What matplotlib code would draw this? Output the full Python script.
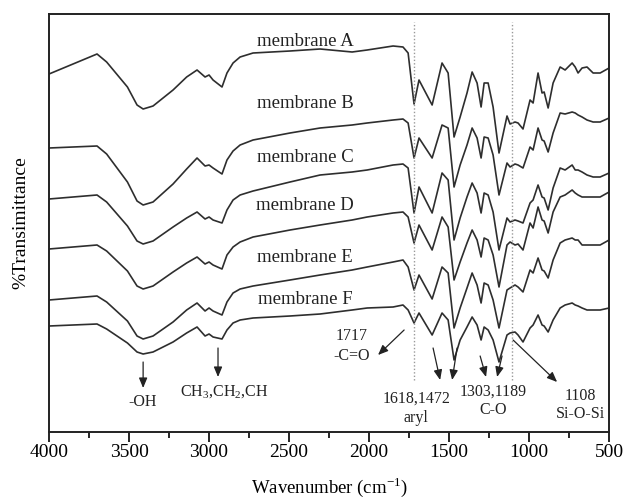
import matplotlib
matplotlib.use("Agg")
import matplotlib.pyplot as plt
import numpy as np
from matplotlib.ticker import MultipleLocator

plt.rcParams['font.family'] = ['Liberation Serif', 'DejaVu Serif']
plt.rcParams['mathtext.fontset'] = 'custom'
plt.rcParams['mathtext.rm'] = 'Liberation Serif'

# wavenumbers (cm-1) where the traces were read
wavenumber = [4000, 3700, 3640, 3510, 3450, 3412, 3350, 3225, 3140, 3075, 3025,
              3000, 2975, 2919, 2888, 2850, 2806, 2725, 2494, 2306, 2106, 2012,
              1850, 1788, 1756, 1719, 1688, 1606, 1544, 1506, 1469, 1431, 1388,
              1356, 1325, 1300, 1281, 1256, 1225, 1188, 1138, 1119, 1088, 1069,
              1038, 994, 975, 944, 919, 906, 881, 850, 806, 775, 731, 712, 694,
              669, 638, 600, 556, 500]

# %T in arbitrary (stacked) units
mem_A = [358, 378, 370, 345, 327, 323, 326, 342, 355, 362, 355,
         357, 352, 345, 359, 369, 375, 379, 381, 383, 380, 382,
         386, 385, 379, 328, 352, 327, 369, 359, 295, 315, 339,
         360, 349, 325, 349, 349, 325, 279, 316, 308, 310, 309,
         303, 332, 329, 359, 339, 340, 324, 349, 365, 362, 369, 365, 359,
         364, 365, 359, 359, 364]
mem_B = [284, 286, 278, 250, 231, 227, 230, 248, 263, 274, 266,
         267, 264, 258, 272, 281, 287, 292, 299, 304, 307, 309,
         312, 313, 309, 274, 294, 274, 307, 304, 245, 267, 287,
         304, 294, 274, 295, 294, 277, 237, 269, 265, 268, 267,
         264, 285, 282, 304, 292, 291, 280, 299, 319, 318, 320, 319, 317,
         315, 312, 310, 310, 314]
mem_C = [233, 237, 230, 206, 191, 188, 191, 205, 214, 220, 213,
         215, 212, 209, 222, 232, 237, 241, 250, 257, 260, 262,
         267, 268, 264, 219, 245, 219, 259, 252, 192, 214, 235,
         249, 239, 219, 239, 237, 220, 182, 214, 210, 212, 211,
         209, 229, 232, 247, 235, 234, 222, 244, 264, 262, 267, 262, 262,
         260, 257, 255, 255, 259]
mem_D = [183, 187, 181, 161, 146, 143, 146, 160, 169, 175, 168,
         170, 167, 163, 177, 185, 190, 195, 202, 207, 212, 215,
         219, 220, 215, 189, 207, 182, 215, 205, 152, 170, 189,
         202, 192, 175, 194, 192, 177, 145, 187, 190, 187, 188,
         182, 209, 204, 225, 212, 211, 199, 220, 235, 237, 242, 239, 237,
         235, 235, 235, 235, 240]
mem_E = [132, 136, 130, 111, 96, 93, 96, 110, 122, 129, 121,
         124, 121, 117, 130, 139, 143, 146, 152, 157, 162, 165,
         170, 172, 165, 142, 157, 133, 165, 159, 104, 124, 144,
         159, 147, 129, 149, 147, 132, 104, 142, 144, 147, 145,
         140, 162, 159, 174, 162, 161, 154, 172, 189, 192, 194, 192, 192,
         187, 187, 187, 187, 192]
mem_F = [106, 108, 103, 89, 80, 78, 80, 90, 99, 105, 96,
         98, 95, 93, 102, 109, 112, 114, 116, 118, 122, 124,
         125, 127, 122, 109, 119, 97, 119, 112, 72, 92, 105,
         115, 107, 92, 105, 102, 92, 70, 97, 99, 100, 97,
         90, 104, 107, 117, 107, 106, 100, 112, 124, 127, 129, 127, 126,
         124, 122, 122, 122, 124]

series = [mem_A, mem_B, mem_C, mem_D, mem_E, mem_F]
labels = ['membrane A', 'membrane B', 'membrane C', 'membrane D', 'membrane E', 'membrane F']
label_y = [390, 329, 274, 227, 175, 132]

fig = plt.figure(figsize=(6.23, 5.0), dpi=100)
ax = fig.add_axes([0.0787, 0.136, 0.899, 0.836])

for s in series:
    ax.plot(wavenumber, s, color='#2e2e2e', lw=1.2)

for lab, yy in zip(labels, label_y):
    ax.text(2400, yy, lab, ha='center', va='center', fontsize=13.5, color='#222222')

# reference lines for C=O and Si-O-Si
for wn in [1717, 1108]:
    ax.plot([wn, wn], [52, 410], color='#999999', lw=1, ls=(0, (1, 1.5)))

arw = dict(arrowstyle='-|>,head_length=0.6,head_width=0.25', color='#222222', lw=0.9,
           shrinkA=0, shrinkB=0)
ann = dict(fontsize=11.5, ha='center', va='center', color='#222222', linespacing=1.25)

ax.annotate('', xy=(3412, 44), xytext=(3412, 70), arrowprops=arw)
ax.text(3412, 30, '-OH', **ann)

ax.annotate('', xy=(2944, 55), xytext=(2944, 84), arrowprops=arw)
ax.text(2906, 40, 'CH$_3$,CH$_2$,CH', **ann)

ax.annotate('', xy=(1944, 77), xytext=(1781, 102), arrowprops=arw)
ax.text(2106, 86, '1717\n-C=O', **ann)

ax.annotate('', xy=(1556, 52), xytext=(1600, 84), arrowprops=arw)
ax.annotate('', xy=(1481, 52), xytext=(1450, 84), arrowprops=arw)
ax.text(1706, 24, '1618,1472\naryl', **ann)

ax.annotate('', xy=(1269, 55), xytext=(1306, 76), arrowprops=arw)
ax.annotate('', xy=(1200, 55), xytext=(1169, 76), arrowprops=arw)
ax.text(1225, 31, '1303,1189\nC-O', **ann)

ax.annotate('', xy=(825, 50), xytext=(1100, 92), arrowprops=arw)
ax.text(681, 27, '1108\nSi-O-Si', **ann)

ax.set_xlim(4000, 500)
ax.set_ylim(0, 418)
ax.xaxis.set_major_locator(MultipleLocator(500))
ax.xaxis.set_minor_locator(MultipleLocator(250))
ax.tick_params(axis='x', which='major', direction='out', length=7, width=1.2,
               labelsize=14, pad=1.5, top=False)
ax.tick_params(axis='x', which='minor', direction='out', length=4.5, width=1.2, top=False)
ax.set_yticks([])
for sp in ax.spines.values():
    sp.set_linewidth(1.4)
    sp.set_color('#222222')

ax.set_xlabel('Wavenumber (cm$^{-1}$)', fontsize=13.5, labelpad=10)
ax.set_ylabel('%Transimittance', fontsize=14, labelpad=14)

fig.savefig('out.png', dpi=100)
